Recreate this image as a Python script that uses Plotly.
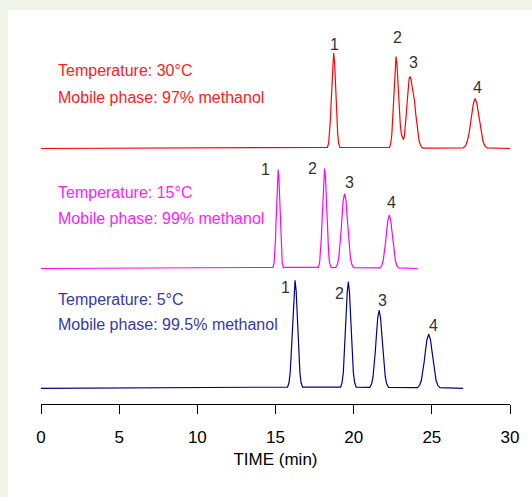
import plotly.graph_objects as go

# ---------------- data ----------------
# Chromatogram 1: 30 °C, 97 % methanol (red)
red_time = [0.0,
            18.32, 18.40, 18.46, 18.51, 18.56, 18.60, 18.66, 18.72, 18.78, 18.84, 18.88, 18.93, 18.98, 19.04, 19.12,
            22.29, 22.37, 22.44, 22.49, 22.54, 22.58, 22.65, 22.71, 22.77, 22.83, 22.88, 22.93, 22.99, 23.06, 23.13,
            23.18, 23.24, 23.30, 23.35, 23.42, 23.48, 23.55, 23.61, 23.67, 23.73, 23.79, 23.85, 23.90, 23.96, 24.03,
            24.10, 24.18, 24.27, 24.36, 24.46,
            27.00, 27.16, 27.27, 27.38, 27.46, 27.54, 27.66, 27.77, 27.88, 28.00, 28.08, 28.16, 28.27, 28.38, 28.54,
            30.0]
red_signal = [0.0,
              1.1, 5.3, 14.2, 28.7, 46.5, 63.7, 86.3, 95.5, 86.3, 63.7, 46.5, 28.7, 14.2, 5.3, 1.1,
              1.0, 5.2, 13.7, 27.7, 44.8, 61.4, 83.2, 92.0, 84.0, 68.0, 50.0, 35.0, 22.0, 14.0, 10.0,
              9.0, 12.0, 20.0, 31.0, 46.0, 61.0, 70.0, 72.0, 69.0, 63.0, 57.0, 53.0, 47.0, 36.0, 26.0,
              15.0, 8.0, 3.5, 1.3, 0.3,
              0.55, 2.8, 7.5, 15.1, 24.4, 33.4, 45.2, 50.0, 45.2, 33.4, 24.4, 15.1, 7.5, 2.8, 0.55,
              0.0]

# Chromatogram 2: 15 °C, 99 % methanol (magenta)
mag_time = [0.0,
            14.84, 14.91, 14.96, 15.00, 15.04, 15.07, 15.12, 15.17, 15.22, 15.27, 15.30, 15.34, 15.39, 15.43, 15.50,
            17.74, 17.82, 17.88, 17.93, 17.98, 18.02, 18.08, 18.14, 18.20, 18.26, 18.30, 18.35, 18.40, 18.46, 18.55,
            18.85, 18.96, 19.05, 19.13, 19.19, 19.25, 19.33, 19.42, 19.51, 19.59, 19.65, 19.72, 19.79, 19.88, 19.99,
            21.68, 21.80, 21.89, 21.97, 22.04, 22.10, 22.19, 22.28, 22.37, 22.46, 22.52, 22.59, 22.67, 22.76, 22.88,
            24.06]
mag_signal = [0.0,
              1.1, 5.5, 14.8, 29.8, 48.2, 66.0, 89.5, 99.0, 89.5, 66.0, 48.2, 29.8, 14.8, 5.5, 1.1,
              1.1, 5.6, 14.9, 30.1, 48.7, 66.7, 90.4, 100.0, 90.4, 66.7, 48.7, 30.1, 14.9, 5.6, 1.1,
              0.8, 4.2, 11.2, 22.6, 36.5, 50.0, 67.8, 75.0, 67.8, 50.0, 36.5, 22.6, 11.2, 4.2, 0.8,
              0.6, 3.0, 8.0, 16.1, 26.1, 35.7, 48.4, 53.5, 48.4, 35.7, 26.1, 16.1, 8.0, 3.0, 0.6,
              0.0]

# Chromatogram 3: 5 °C, 99.5 % methanol (blue)
blue_time = [0.0,
             15.77, 15.87, 15.94, 16.00, 16.06, 16.11, 16.18, 16.25, 16.32, 16.39, 16.44, 16.50, 16.56, 16.63, 16.73,
             19.17, 19.26, 19.34, 19.40, 19.46, 19.51, 19.59, 19.66, 19.73, 19.81, 19.86, 19.92, 19.98, 20.06, 20.16,
             21.03, 21.15, 21.24, 21.32, 21.39, 21.45, 21.54, 21.63, 21.72, 21.81, 21.87, 21.94, 22.02, 22.11, 22.23,
             24.08, 24.22, 24.33, 24.43, 24.51, 24.58, 24.69, 24.80, 24.91, 25.02, 25.09, 25.17, 25.27, 25.38, 25.52,
             27.0]
blue_signal = [0.0,
               1.2, 6.0, 16.1, 32.5, 52.6, 72.0, 97.6, 108.0, 97.6, 72.0, 52.6, 32.5, 16.1, 6.0, 1.2,
               1.2, 6.0, 15.9, 32.1, 51.9, 71.0, 96.3, 106.5, 96.3, 71.0, 51.9, 32.1, 15.9, 6.0, 1.2,
               0.9, 4.4, 11.6, 23.5, 38.0, 52.0, 70.5, 78.0, 70.5, 52.0, 38.0, 23.5, 11.6, 4.4, 0.9,
               0.6, 3.0, 8.0, 16.3, 26.3, 36.0, 48.8, 54.0, 48.8, 36.0, 26.3, 16.3, 8.0, 3.0, 0.6,
               0.0]

# Peak numbers and apexes
peak_ids = ["1", "2", "3", "4"]
red_peak_t = [18.72, 22.71, 23.61, 27.77]
red_peak_h = [95.5, 92.0, 72.0, 50.0]
mag_peak_t = [15.17, 18.14, 19.42, 22.28]
mag_peak_h = [99.0, 100.0, 75.0, 53.5]
blue_peak_t = [16.25, 19.66, 21.63, 24.80]
blue_peak_h = [108.0, 106.5, 78.0, 54.0]

# Condition texts
red_text = ["Temperature: 30°C", "Mobile phase: 97% methanol"]
mag_text = ["Temperature: 15°C", "Mobile phase: 99% methanol"]
blue_text = ["Temperature: 5°C", "Mobile phase: 99.5% methanol"]

x_ticks = [0, 5, 10, 15, 20, 25, 30]
x_tick_labels = ["0", "5", "10", "15", "20", "25", "30"]
x_title = "TIME (min)"

# ---------------- layout / style ----------------
W, H = 532, 497
ML, MR, MT, MB = 41, 22, 10, 93
PH = H - MT - MB  # plot height in px
PW = W - ML - MR
FONT = "Liberation Sans, Arial, sans-serif"
Y_RANGE = [-6, 114]


def fy(py):
    return (H - MB - py) / PH


def fx(px):
    return (px - ML) / PW


panels = [
    dict(t=red_time, s=red_signal, pt=red_peak_t, ph=red_peak_h, txt=red_text,
         color="#ff0000", tcolor="#ff2020", base=148.5, text_y=[71, 97],
         lab_shift=[(1, 9), (1, 19), (3, 14), (2, 11)], axis="y3"),
    dict(t=mag_time, s=mag_signal, pt=mag_peak_t, ph=mag_peak_h, txt=mag_text,
         color="#ff00ff", tcolor="#ff20ff", base=268.5, text_y=[192, 218],
         lab_shift=[(-13, 0), (-12, 0), (5, 11), (2, 13)], axis="y2"),
    dict(t=blue_time, s=blue_signal, pt=blue_peak_t, ph=blue_peak_h, txt=blue_text,
         color="#00008c", tcolor="#3838b0", base=388.3, text_y=[299, 324],
         lab_shift=[(-10, -7), (-9, -12), (3, 10), (5, 9)], axis="y"),
]

fig = go.Figure()
annotations = []
layout_axes = {}
for p in panels:
    fig.add_trace(go.Scatter(x=p["t"], y=p["s"], mode="lines", yaxis=p["axis"], xaxis="x",
                             line=dict(color=p["color"], width=1.2), showlegend=False,
                             hoverinfo="skip"))
    bottom = p["base"] + (0 - Y_RANGE[0])
    top = p["base"] - Y_RANGE[1]
    key = "yaxis" if p["axis"] == "y" else "yaxis" + p["axis"][1:]
    layout_axes[key] = dict(domain=[fy(bottom), fy(top)], range=Y_RANGE, visible=False,
                            showgrid=False, zeroline=False, anchor="x", fixedrange=True)
    for lab, t, h, (dx, dy) in zip(peak_ids, p["pt"], p["ph"], p["lab_shift"]):
        annotations.append(dict(x=t, y=h, xref="x", yref=p["axis"], text=lab, showarrow=False,
                                xshift=dx, yshift=dy, xanchor="center", yanchor="middle",
                                font=dict(family=FONT, size=16, color="#333333")))
    for line, ty in zip(p["txt"], p["text_y"]):
        annotations.append(dict(x=fx(56), y=fy(ty), xref="paper", yref="paper", text=line,
                                showarrow=False, xanchor="left", yanchor="middle",
                                font=dict(family=FONT, size=16, color=p["tcolor"])))

fig.update_layout(
    width=W, height=H,
    margin=dict(l=ML, r=MR, t=MT, b=MB, pad=0),
    paper_bgcolor="#f0f5ea",
    plot_bgcolor="rgba(0,0,0,0)",
    font=dict(family=FONT, color="#000000"),
    xaxis=dict(range=[0, 30], tickvals=x_ticks, ticktext=x_tick_labels, showgrid=False,
               zeroline=False, showline=True, linecolor="#000000", linewidth=1,
               ticks="outside", ticklen=9, tickwidth=1, tickcolor="#000000",
               ticklabelstandoff=9,
               tickfont=dict(family=FONT, size=17, color="#000000"),
               anchor="free", position=0, fixedrange=True,
               title=dict(text=x_title, font=dict(family=FONT, size=17, color="#000000"),
                          standoff=6)),
    shapes=[dict(type="rect", xref="paper", yref="paper", layer="below",
                 x0=fx(8), x1=fx(W + 5), y0=fy(H + 5), y1=fy(MT),
                 fillcolor="#ffffff", line=dict(width=0))],
    annotations=annotations,
    **layout_axes,
)

fig.write_html("out.html")
